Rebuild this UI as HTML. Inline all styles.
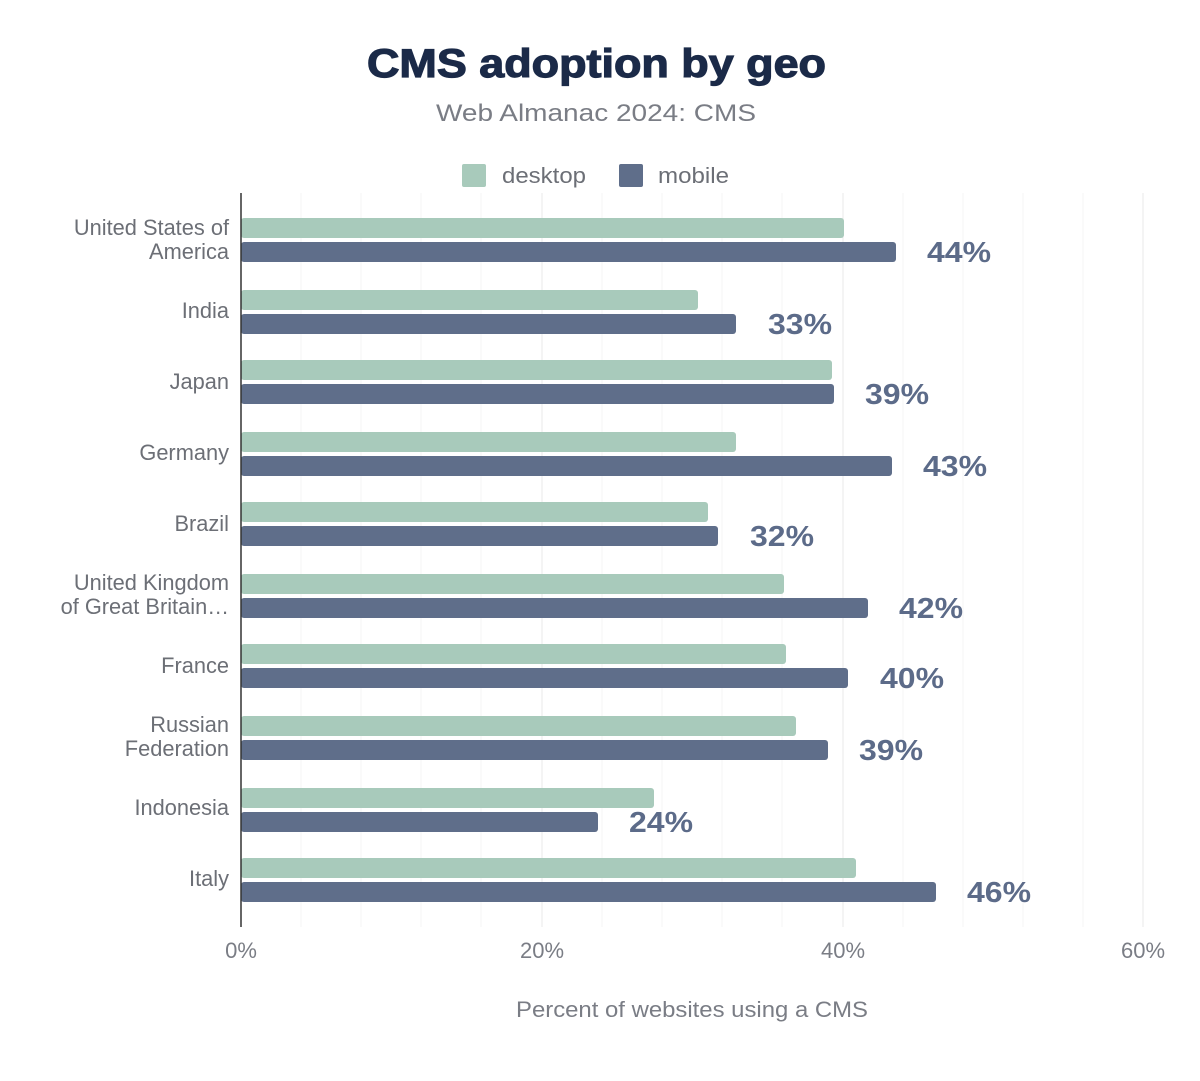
<!DOCTYPE html>
<html><head><meta charset="utf-8"><style>
body{margin:0;background:#fff;}
svg text{font-family:"Liberation Sans",Arial,sans-serif;}
</style></head><body>
<svg width="1200" height="1076" viewBox="0 0 1200 1076" xmlns="http://www.w3.org/2000/svg">
<rect width="1200" height="1076" fill="#fff"/>
<text x="367" y="77" font-size="40" font-weight="900" fill="#1b2a48" stroke="#1b2a48" stroke-width="1.2" textLength="459" lengthAdjust="spacingAndGlyphs">CMS adoption by geo</text>
<text x="436" y="121" font-size="24" fill="#7a7d85" textLength="320" lengthAdjust="spacingAndGlyphs">Web Almanac 2024: CMS</text>
<rect x="462" y="164" width="24" height="23" rx="2" fill="#a8cabb"/>
<text x="502" y="183" font-size="22" fill="#6c6f76" textLength="84" lengthAdjust="spacingAndGlyphs">desktop</text>
<rect x="619" y="164" width="24" height="23" rx="2" fill="#5f6e8a"/>
<text x="658" y="183" font-size="22" fill="#6c6f76" textLength="71" lengthAdjust="spacingAndGlyphs">mobile</text>
<g stroke="#f5f5f5" stroke-width="1">
<line x1="301" y1="193" x2="301" y2="927"/><line x1="361" y1="193" x2="361" y2="927"/><line x1="421" y1="193" x2="421" y2="927"/><line x1="481" y1="193" x2="481" y2="927"/>
<line x1="602" y1="193" x2="602" y2="927"/><line x1="662" y1="193" x2="662" y2="927"/><line x1="722" y1="193" x2="722" y2="927"/><line x1="782" y1="193" x2="782" y2="927"/>
<line x1="903" y1="193" x2="903" y2="927"/><line x1="963" y1="193" x2="963" y2="927"/><line x1="1023" y1="193" x2="1023" y2="927"/><line x1="1083" y1="193" x2="1083" y2="927"/>
</g>
<g stroke="#e8e8e8" stroke-width="1">
<line x1="542" y1="193" x2="542" y2="927"/><line x1="843" y1="193" x2="843" y2="927"/><line x1="1143" y1="193" x2="1143" y2="927"/>
</g>
<g fill="#a8cabb">
<rect x="241" y="218" width="603" height="20" rx="3"/>
<rect x="241" y="290" width="457" height="20" rx="3"/>
<rect x="241" y="360" width="591" height="20" rx="3"/>
<rect x="241" y="432" width="495" height="20" rx="3"/>
<rect x="241" y="502" width="467" height="20" rx="3"/>
<rect x="241" y="574" width="543" height="20" rx="3"/>
<rect x="241" y="644" width="545" height="20" rx="3"/>
<rect x="241" y="716" width="555" height="20" rx="3"/>
<rect x="241" y="788" width="413" height="20" rx="3"/>
<rect x="241" y="858" width="615" height="20" rx="3"/>
</g>
<g fill="#5f6e8a">
<rect x="241" y="242" width="655" height="20" rx="3"/>
<rect x="241" y="314" width="495" height="20" rx="3"/>
<rect x="241" y="384" width="593" height="20" rx="3"/>
<rect x="241" y="456" width="651" height="20" rx="3"/>
<rect x="241" y="526" width="477" height="20" rx="3"/>
<rect x="241" y="598" width="627" height="20" rx="3"/>
<rect x="241" y="668" width="607" height="20" rx="3"/>
<rect x="241" y="740" width="587" height="20" rx="3"/>
<rect x="241" y="812" width="357" height="20" rx="3"/>
<rect x="241" y="882" width="695" height="20" rx="3"/>
</g>
<line x1="241" y1="193" x2="241" y2="927" stroke="#333" stroke-width="1.5"/>
<g font-size="29" font-weight="bold" fill="#5c6b89">
<text x="927" y="262" textLength="64" lengthAdjust="spacingAndGlyphs">44%</text>
<text x="768" y="334" textLength="64" lengthAdjust="spacingAndGlyphs">33%</text>
<text x="865" y="404" textLength="64" lengthAdjust="spacingAndGlyphs">39%</text>
<text x="923" y="476" textLength="64" lengthAdjust="spacingAndGlyphs">43%</text>
<text x="750" y="546" textLength="64" lengthAdjust="spacingAndGlyphs">32%</text>
<text x="899" y="618" textLength="64" lengthAdjust="spacingAndGlyphs">42%</text>
<text x="880" y="688" textLength="64" lengthAdjust="spacingAndGlyphs">40%</text>
<text x="859" y="760" textLength="64" lengthAdjust="spacingAndGlyphs">39%</text>
<text x="629" y="832" textLength="64" lengthAdjust="spacingAndGlyphs">24%</text>
<text x="967" y="902" textLength="64" lengthAdjust="spacingAndGlyphs">46%</text>
</g>
<g font-size="21.8" fill="#6c6f76" text-anchor="end">
<text x="229" y="235">United States of</text><text x="229" y="259">America</text>
<text x="229" y="318">India</text>
<text x="229" y="389">Japan</text>
<text x="229" y="460">Germany</text>
<text x="229" y="531">Brazil</text>
<text x="229" y="590">United Kingdom</text><text x="229" y="614">of Great Britain…</text>
<text x="229" y="673">France</text>
<text x="229" y="732">Russian</text><text x="229" y="756">Federation</text>
<text x="229" y="815">Indonesia</text>
<text x="229" y="886">Italy</text>
</g>
<g font-size="22" fill="#7a7d85" text-anchor="middle">
<text x="241" y="958">0%</text><text x="542" y="958">20%</text><text x="843" y="958">40%</text><text x="1143" y="958">60%</text>
</g>
<text x="516" y="1017" font-size="22" fill="#7a7d85" textLength="352" lengthAdjust="spacingAndGlyphs">Percent of websites using a CMS</text>
</svg>
</body></html>
